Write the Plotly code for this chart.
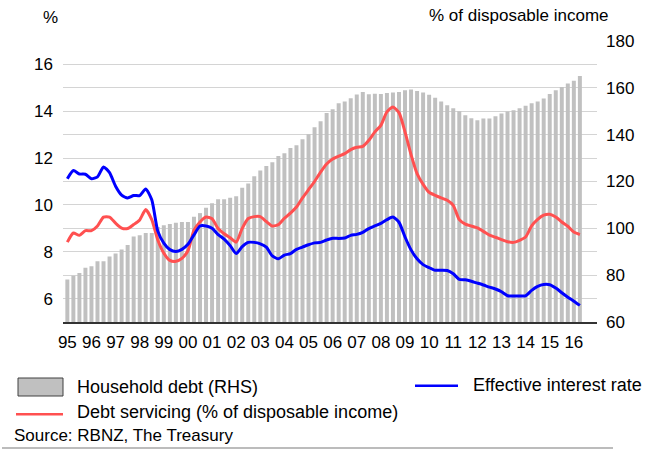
import plotly.graph_objects as go

# Quarterly series, 1995Q1 - 2016Q2
start_year = 1995

household_debt = [  # % of disposable income (right axis)
    78.2, 79.8, 80.9, 83.2, 83.8, 85.9, 85.9, 88.0, 89.2, 91.0,
    92.9, 96.5, 97.0, 98.0, 98.0, 100.6, 101.3, 101.8, 102.4, 102.7,
    102.7, 105.0, 106.5, 108.8, 110.7, 112.4, 112.4, 113.1, 113.7, 117.3,
    119.1, 122.2, 124.7, 126.6, 128.2, 130.9, 132.1, 134.3, 135.5, 138.0,
    140.2, 143.2, 145.7, 149.2, 150.9, 153.4, 154.2, 155.6, 157.2, 158.2,
    157.3, 157.5, 157.4, 157.8, 158.0, 158.2, 159.0, 159.3, 158.7, 158.0,
    157.0, 155.8, 154.2, 152.6, 151.3, 150.0, 148.3, 147.0, 146.2, 146.9,
    146.9, 147.9, 149.0, 149.9, 150.4, 151.3, 152.3, 153.4, 154.2, 155.4,
    157.4, 159.0, 160.4, 161.9, 163.0, 165.1,
]

debt_servicing = [  # % of disposable income (left axis)
    8.41, 8.80, 8.70, 8.90, 8.90, 9.10, 9.48, 9.48, 9.22, 9.01,
    8.99, 9.16, 9.36, 9.80, 9.37, 8.50, 7.94, 7.63, 7.59, 7.72,
    8.04, 8.92, 9.27, 9.48, 9.41, 8.99, 8.77, 8.60, 8.41, 9.00,
    9.42, 9.50, 9.50, 9.29, 9.10, 9.16, 9.43, 9.65, 9.91, 10.30,
    10.65, 11.00, 11.40, 11.75, 11.96, 12.08, 12.19, 12.36, 12.46, 12.50,
    12.76, 13.12, 13.40, 13.97, 14.18, 13.94, 13.12, 12.15, 11.34, 10.88,
    10.54, 10.41, 10.30, 10.20, 9.98, 9.37, 9.18, 9.10, 9.02, 8.87,
    8.71, 8.62, 8.52, 8.43, 8.40, 8.49, 8.63, 9.10, 9.38, 9.56,
    9.60, 9.48, 9.27, 9.09, 8.84, 8.73,
]

effective_rate = [  # % (left axis)
    11.12, 11.47, 11.32, 11.31, 11.12, 11.20, 11.62, 11.38, 10.80, 10.42,
    10.30, 10.40, 10.40, 10.68, 10.22, 8.88, 8.37, 8.09, 8.01, 8.10,
    8.32, 8.72, 9.10, 9.10, 9.00, 8.73, 8.54, 8.26, 7.92, 8.22,
    8.40, 8.40, 8.34, 8.20, 7.82, 7.70, 7.86, 7.92, 8.10, 8.20,
    8.30, 8.38, 8.40, 8.50, 8.58, 8.57, 8.59, 8.70, 8.74, 8.83,
    8.99, 9.10, 9.21, 9.37, 9.48, 9.26, 8.63, 8.08, 7.70, 7.45,
    7.32, 7.21, 7.21, 7.20, 7.06, 6.82, 6.80, 6.74, 6.66, 6.58,
    6.49, 6.41, 6.29, 6.12, 6.11, 6.11, 6.12, 6.35, 6.52, 6.60,
    6.59, 6.45, 6.25, 6.06, 5.89, 5.71,
]

year_ticks = list(range(1995, 2017))
year_labels = ["95", "96", "97", "98", "99", "00", "01", "02", "03", "04", "05",
               "06", "07", "08", "09", "10", "11", "12", "13", "14", "15", "16"]

quarter_pos = [start_year + k / 4 for k in range(len(household_debt))]

# Page geometry (pixels)
W, H = 660, 450
ML, MR, MT, MB = 63, 63, 41, 128
FONT = "Liberation Sans, Arial, sans-serif"
GREY_BAR = "#C0C0C0"
RED = "#FF5050"
BLUE = "#0000FF"


def fx(px):
    return (px - ML) / (W - ML - MR)


def fy(py):
    return (H - MB - py) / (H - MT - MB)


fig = go.Figure()

fig.add_trace(go.Bar(
    x=quarter_pos, y=household_debt, name="Household debt (RHS)",
    marker=dict(color=GREY_BAR, line=dict(width=0)), yaxis="y",
))
fig.add_trace(go.Scatter(
    x=quarter_pos, y=debt_servicing, name="Debt servicing (% of disposable income)",
    mode="lines", line=dict(color=RED, width=3, shape="spline", smoothing=0.6),
    yaxis="y2",
))
fig.add_trace(go.Scatter(
    x=quarter_pos, y=effective_rate, name="Effective interest rate",
    mode="lines", line=dict(color=BLUE, width=3, shape="spline", smoothing=0.6),
    yaxis="y2",
))

rhs_ticks = list(range(60, 181, 10))
rhs_text = [str(v) if v % 20 == 0 else "" for v in rhs_ticks]
lhs_ticks = [6, 8, 10, 12, 14, 16]

fig.update_layout(
    width=W, height=H,
    margin=dict(l=ML, r=MR, t=MT, b=MB, pad=0),
    paper_bgcolor="white", plot_bgcolor="white",
    showlegend=False,
    bargap=0.34,
    font=dict(family=FONT, size=17, color="#000000"),
    xaxis=dict(
        range=[1994.82, 2016.96],
        tickvals=year_ticks, ticktext=year_labels,
        showgrid=False, zeroline=False,
        showline=True, linecolor="#333333", linewidth=2,
        ticks="", ticklabelstandoff=4,
        tickfont=dict(size=17),
    ),
    yaxis=dict(
        side="right", range=[60, 180],
        tickvals=rhs_ticks, ticktext=rhs_text,
        showgrid=True, gridcolor="#D4D4D4", gridwidth=1.3,
        zeroline=False, showline=False, ticks="",
        ticklabelstandoff=8, tickfont=dict(size=17),
    ),
    yaxis2=dict(
        overlaying="y", side="left", range=[5, 17],
        tickvals=lhs_ticks, showgrid=False, zeroline=False,
        showline=False, ticks="", ticklabelstandoff=9,
        tickfont=dict(size=17),
    ),
)

annotations = [
    dict(text="%", x=fx(50), y=fy(17), xanchor="center", yanchor="middle", size=17),
    dict(text="% of disposable income", x=fx(611), y=fy(16), xanchor="right", yanchor="middle", size=17),
    dict(text="Household debt (RHS)", x=fx(75), y=fy(386.5), xanchor="left", yanchor="middle", size=18),
    dict(text="Effective interest rate", x=fx(471), y=fy(385), xanchor="left", yanchor="middle", size=18),
    dict(text="Debt servicing (% of disposable income)", x=fx(75), y=fy(411.5), xanchor="left", yanchor="middle", size=18),
    dict(text="Source: RBNZ, The Treasury", x=fx(12), y=fy(435), xanchor="left", yanchor="middle", size=17),
]
for a in annotations:
    fig.add_annotation(
        text=a["text"], x=a["x"], y=a["y"], xref="paper", yref="paper",
        xanchor=a["xanchor"], yanchor=a["yanchor"], showarrow=False,
        font=dict(family=FONT, size=a["size"], color="#000000"),
    )

# Legend keys and footer rule
fig.add_shape(type="rect", xref="paper", yref="paper",
              x0=fx(18), x1=fx(63), y0=fy(396), y1=fy(378),
              fillcolor=GREY_BAR, line=dict(color="#404040", width=1))
fig.add_shape(type="line", xref="paper", yref="paper",
              x0=fx(415), x1=fx(458), y0=fy(385.7), y1=fy(385.7),
              line=dict(color=BLUE, width=2.5))
fig.add_shape(type="line", xref="paper", yref="paper",
              x0=fx(16), x1=fx(63), y0=fy(414.3), y1=fy(414.3),
              line=dict(color=RED, width=2.5))
fig.add_shape(type="line", xref="paper", yref="paper",
              x0=fx(2), x1=fx(613), y0=fy(448), y1=fy(448),
              line=dict(color="#A6A6A6", width=1.5))

fig.write_html("out.html")
